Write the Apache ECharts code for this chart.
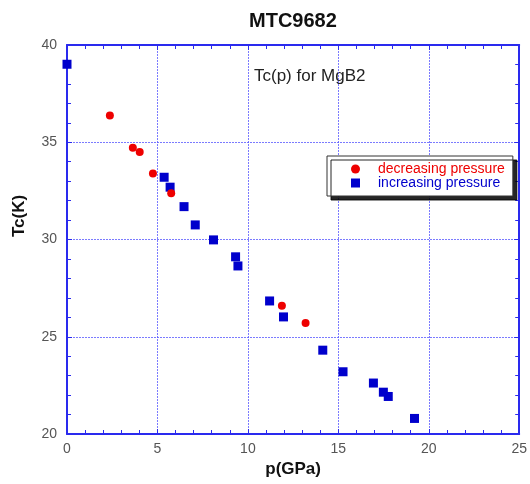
<!DOCTYPE html>
<html>
<head>
<meta charset="utf-8">
<script src="https://cdn.jsdelivr.net/npm/echarts@6/dist/echarts.min.js"></script>
<style>
  html, body { margin: 0; padding: 0; background: #fff; }
  #chart { width: 530px; height: 484px; }
</style>
</head>
<body>
<div id="chart"></div>
<script>
// p (GPa) and Tc (K)
const decreasingP = [2.37, 3.64, 4.02, 4.75, 5.76, 11.88, 13.19]
const decreasingTc = [36.37, 34.72, 34.50, 33.39, 32.38, 26.60, 25.71]

const increasingP = [0, 5.37, 5.70, 6.47, 7.09, 8.10, 9.32, 9.45, 11.20, 11.97, 14.14, 15.26, 16.94, 17.49, 17.76, 19.21]
const increasingTc = [39.01, 33.20, 32.69, 31.69, 30.75, 29.98, 29.11, 28.64, 26.84, 26.02, 24.31, 23.20, 22.62, 22.15, 21.93, 20.80]

const RED = '#ee0000'
const BLUE = '#0000cc'
const AXIS_BLUE = '#2a2aee'
const GRID_BLUE = '#5a5aff'
const FONT = 'Liberation Sans, Arial'

const chart = echarts.init(document.getElementById('chart'))

const baseAxis = {
  axisLine: { show: true, onZero: false, lineStyle: { color: AXIS_BLUE, width: 2 } },
  axisTick: { show: true, inside: true, length: 5, lineStyle: { color: AXIS_BLUE } },
  minorTick: { show: true, splitNumber: 5, length: 4, lineStyle: { color: AXIS_BLUE } },
  axisLabel: { color: '#555', fontSize: 14, fontFamily: FONT }
}

const gridLine = { show: true, lineStyle: { color: GRID_BLUE, type: [2, 1], width: 1, opacity: 0.8 } }

const option = {
  animation: false,
  title: {
    text: 'MTC9682',
    left: 244,
    top: 6,
    textStyle: { fontSize: 20, fontWeight: 'bold', color: '#111', fontFamily: FONT }
  },
  graphic: [{
    type: 'text',
    left: 254,
    top: 68,
    style: { text: 'Tc(p) for MgB2', fontSize: 17, fill: '#222', fontFamily: FONT }
  }, {
    // y axis title sits a bit above the middle in the original
    type: 'text',
    x: 19,
    y: 216,
    rotation: Math.PI / 2,
    style: { text: 'Tc(K)', align: 'center', verticalAlign: 'middle', fontSize: 17, fontWeight: 'bold', fill: '#111', fontFamily: FONT }
  }],
  legend: {
    orient: 'vertical',
    left: 327,
    top: 156,
    padding: [6, 8, 6, 24],
    itemGap: 0,
    itemWidth: 9,
    itemHeight: 9,
    backgroundColor: '#fff',
    borderColor: '#333',
    borderWidth: 1,
    shadowColor: 'rgba(0,0,0,0.85)',
    shadowOffsetX: 4,
    shadowOffsetY: 4,
    shadowBlur: 0,
    textStyle: { fontSize: 14, lineHeight: 13, padding: [0, 0, 0, 13], fontFamily: FONT },
    data: [
      { name: 'decreasing pressure', icon: 'circle', textStyle: { color: RED } },
      { name: 'increasing pressure', icon: 'rect', textStyle: { color: BLUE } }
    ]
  },
  grid: { left: 67, right: 7, top: 45, bottom: 50 },
  xAxis: [{
    ...baseAxis,
    type: 'value',
    min: 0, max: 25, interval: 5,
    name: 'p(GPa)',
    nameLocation: 'middle',
    nameGap: 24,
    nameTextStyle: { fontSize: 17, fontWeight: 'bold', color: '#111', fontFamily: FONT },
    splitLine: gridLine
  }, {
    ...baseAxis,
    type: 'value',
    position: 'top',
    min: 0, max: 25, interval: 5,
    axisLabel: { show: false },
    splitLine: { show: false }
  }],
  yAxis: [{
    ...baseAxis,
    type: 'value',
    min: 20, max: 40, interval: 5,
    axisLabel: { ...baseAxis.axisLabel, margin: 10 },
    splitLine: gridLine
  }, {
    ...baseAxis,
    type: 'value',
    position: 'right',
    min: 20, max: 40, interval: 5,
    axisLabel: { show: false },
    splitLine: { show: false }
  }],
  series: [{
    name: 'decreasing pressure',
    type: 'scatter',
    symbol: 'circle',
    symbolSize: 8,
    itemStyle: { color: RED, opacity: 1 },
    data: decreasingP.map((p, i) => [p, decreasingTc[i]]),
    z: 3
  }, {
    name: 'increasing pressure',
    type: 'scatter',
    symbol: 'rect',
    symbolSize: 9,
    itemStyle: { color: BLUE, opacity: 1 },
    data: increasingP.map((p, i) => [p, increasingTc[i]]),
    z: 2
  }]
}

chart.setOption(option)
</script>
</body>
</html>
